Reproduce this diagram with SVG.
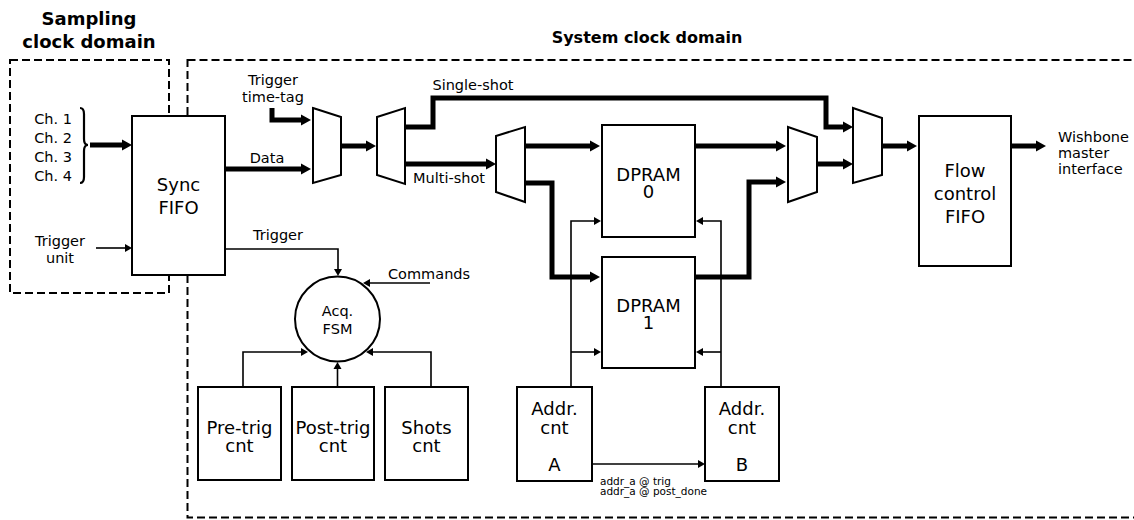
<svg xmlns="http://www.w3.org/2000/svg" width="1134" height="520" viewBox="0 0 1134 520">
<style>
text{font-family:"DejaVu Sans","Liberation Sans",sans-serif;fill:#000}
.t{font-size:14.5px}
.b{font-size:18px}
.s{font-size:10.5px}
.h{font-weight:bold}
.c{text-anchor:middle}
.r{text-anchor:end}
.dash{fill:none;stroke:#000;stroke-width:2;stroke-dasharray:8 4}
.box{fill:#fff;stroke:#000;stroke-width:2}
.thick{fill:none;stroke:#000;stroke-width:5;stroke-linejoin:miter}
.thin{fill:none;stroke:#000;stroke-width:1.6}
</style>
<defs>
<marker id="ah" markerUnits="userSpaceOnUse" markerWidth="10" markerHeight="12" refX="0" refY="6" orient="auto" overflow="visible"><path d="M0,0.5 L10,6 L0,11.5 z" fill="#000"/></marker>
<marker id="as" markerUnits="userSpaceOnUse" markerWidth="7" markerHeight="8" refX="0" refY="4" orient="auto" overflow="visible"><path d="M0,0 L7,4 L0,8 z" fill="#000"/></marker>
</defs>

<g id="domains">
<rect class="dash" x="10" y="60" width="159" height="233"/>
<rect class="dash" x="187.5" y="60" width="980" height="457.5"/>
<text class="h c" style="font-size:18px" x="89" y="25">Sampling</text>
<text class="h c" style="font-size:18px" x="89" y="48">clock domain</text>
<text class="h c" style="font-size:16px" x="647" y="43">System clock domain</text>
</g>

<g id="inputs">
<text class="t r" x="72" y="124">Ch. 1</text>
<text class="t r" x="72" y="143">Ch. 2</text>
<text class="t r" x="72" y="162">Ch. 3</text>
<text class="t r" x="72" y="181">Ch. 4</text>
<path d="M80,108 Q84,108 84,114 L84,139 Q84,145 88,145 Q84,145 84,151 L84,177 Q84,183 80,183" fill="none" stroke="#000" stroke-width="2.2"/>
<text class="t c" x="60" y="246">Trigger</text>
<text class="t c" x="60" y="263">unit</text>
</g>

<g id="connectors">
<path class="thick" marker-end="url(#ah)" d="M90,145 H122"/>
<path class="thick" marker-end="url(#ah)" d="M225,169 H301"/>
<path class="thick" marker-end="url(#ah)" d="M272,108 V120 H301"/>
<path class="thick" marker-end="url(#ah)" d="M341,146 H366"/>
<path class="thick" marker-end="url(#ah)" d="M405,127 H433 V98 H826 V127 H843"/>
<path class="thick" marker-end="url(#ah)" d="M405,164 H486"/>
<path class="thick" marker-end="url(#ah)" d="M525,146 H590"/>
<path class="thick" marker-end="url(#ah)" d="M525,183 H552 V277 H590"/>
<path class="thick" marker-end="url(#ah)" d="M695,146 H776"/>
<path class="thick" marker-end="url(#ah)" d="M695,277 H749 V182 H776"/>
<path class="thick" marker-end="url(#ah)" d="M817,164 H843"/>
<path class="thick" marker-end="url(#ah)" d="M882,146 H907"/>
<path class="thick" marker-end="url(#ah)" d="M1011,146 H1036"/>
<path class="thin" marker-end="url(#as)" d="M96,248 H125"/>
<path class="thin" marker-end="url(#as)" d="M225,249 H338 V269"/>
<path class="thin" marker-end="url(#as)" d="M430,283 H370"/>
<path class="thin" marker-end="url(#as)" d="M243,387 V352 H301"/>
<path class="thin" marker-end="url(#as)" d="M337.5,387 V369"/>
<path class="thin" marker-end="url(#as)" d="M431,387 V352 H373"/>
<path class="thin" marker-end="url(#as)" d="M571,387 V221 H594"/>
<path class="thin" marker-end="url(#as)" d="M571,352 H594"/>
<path class="thin" marker-end="url(#as)" d="M721,387 V221 H703"/>
<path class="thin" marker-end="url(#as)" d="M721,352 H703"/>
<path class="thin" marker-end="url(#as)" d="M592,464 H698"/>
<text class="t c" x="267" y="163">Data</text>
<text class="t c" x="273" y="85">Trigger</text>
<text class="t c" x="273" y="102">time-tag</text>
<text class="t c" x="473" y="90">Single-shot</text>
<text class="t c" x="449" y="183">Multi-shot</text>
<text class="t c" x="278" y="240">Trigger</text>
<text class="t" x="388" y="279">Commands</text>
<text class="t" x="1058" y="142">Wishbone</text>
<text class="t" x="1058" y="158">master</text>
<text class="t" x="1058" y="174">interface</text>
<text class="s" x="600" y="485">addr_a @ trig</text>
<text class="s" x="600" y="495">addr_a @ post_done</text>
</g>

<g id="sync-fifo">
<rect class="box" x="132" y="116" width="93" height="159"/>
<text class="b c" x="178.5" y="191">Sync</text>
<text class="b c" x="178.5" y="214">FIFO</text>
</g>

<g id="mux-1"><polygon class="box" points="313,108 341,117 341,175 313,183"/></g>
<g id="mux-2"><polygon class="box" points="377,117 405,108 405,184 377,175"/></g>
<g id="mux-3"><polygon class="box" points="496,136 525,127 525,202 496,192"/></g>
<g id="mux-4"><polygon class="box" points="853,108 882,118 882,175 853,183"/></g>
<g id="mux-5"><polygon class="box" points="788,127 817,137 817,192 788,202"/></g>

<g id="dpram-0">
<rect class="box" x="602" y="125" width="93" height="112"/>
<text class="b c" x="648.5" y="181">DPRAM</text>
<text class="b c" x="648.5" y="198">0</text>
</g>
<g id="dpram-1">
<rect class="box" x="602" y="257" width="93" height="111"/>
<text class="b c" x="648.5" y="312">DPRAM</text>
<text class="b c" x="648.5" y="329">1</text>
</g>

<g id="flow-fifo">
<rect class="box" x="919" y="116" width="92" height="150"/>
<text class="b c" x="965" y="177">Flow</text>
<text class="b c" x="965" y="200">control</text>
<text class="b c" x="965" y="223">FIFO</text>
</g>

<g id="acq-fsm">
<circle class="box" cx="337.5" cy="319" r="42.5"/>
<text class="t c" x="337.5" y="316">Acq.</text>
<text class="t c" x="337.5" y="334">FSM</text>
</g>

<g id="pre-trig">
<rect class="box" x="198" y="387" width="83" height="93"/>
<text class="b c" x="239.5" y="434">Pre-trig</text>
<text class="b c" x="239.5" y="452">cnt</text>
</g>
<g id="post-trig">
<rect class="box" x="292" y="387" width="82" height="93"/>
<text class="b c" x="333" y="434">Post-trig</text>
<text class="b c" x="333" y="452">cnt</text>
</g>
<g id="shots">
<rect class="box" x="385" y="387" width="83" height="93"/>
<text class="b c" x="426.5" y="434">Shots</text>
<text class="b c" x="426.5" y="452">cnt</text>
</g>

<g id="addr-a">
<rect class="box" x="517" y="387" width="75" height="94"/>
<text class="b c" x="554.5" y="415">Addr.</text>
<text class="b c" x="554.5" y="434">cnt</text>
<text class="b c" x="554.5" y="471">A</text>
</g>
<g id="addr-b">
<rect class="box" x="705" y="387" width="74" height="94"/>
<text class="b c" x="742" y="415">Addr.</text>
<text class="b c" x="742" y="434">cnt</text>
<text class="b c" x="742" y="471">B</text>
</g>
</svg>
